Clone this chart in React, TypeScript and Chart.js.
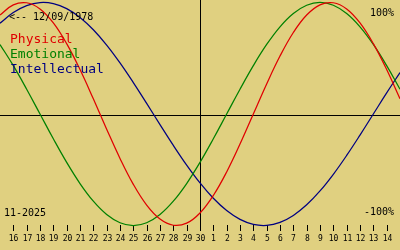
import { useEffect, useRef } from "react";
import { Chart, registerables } from "chart.js";
Chart.register(...registerables);

// Day labels (16 Nov .. 14 Dec), index 0..28
const dayLabels = [
  "16", "17", "18", "19", "20", "21", "22", "23", "24", "25", "26", "27", "28", "29", "30",
  "1", "2", "3", "4", "5", "6", "7", "8", "9", "10", "11", "12", "13", "14",
];
// Series values for day index -1 .. 29 (one extra day at each edge)
const physical = [
  0.8879, 0.9791, 0.9977, 0.9423, 0.817, 0.6311, 0.3984, 0.1362, -0.1362, -0.3984, -0.6311,
  -0.817, -0.9423, -0.9977, -0.9791, -0.8879, -0.7308, -0.5196, -0.2698, 0, 0.2698, 0.5196,
  0.7308, 0.8879, 0.9791, 0.9977, 0.9423, 0.817, 0.6311, 0.3984, 0.1362,
];
const emotional = [
  0.6235, 0.4339, 0.2225, 0, -0.2225, -0.4339, -0.6235, -0.7818, -0.901, -0.9749, -1,
  -0.9749, -0.901, -0.7818, -0.6235, -0.4339, -0.2225, 0, 0.2225, 0.4339, 0.6235, 0.7818,
  0.901, 0.9749, 1, 0.9749, 0.901, 0.7818, 0.6235, 0.4339, 0.2225,
];
const intellectual = [
  0.8146, 0.9096, 0.9718, 0.9989, 0.9898, 0.945, 0.866, 0.7557, 0.6182, 0.4582, 0.2817,
  0.0951, -0.0951, -0.2817, -0.4582, -0.6182, -0.7557, -0.866, -0.945, -0.9898, -0.9989,
  -0.9718, -0.9096, -0.8146, -0.6901, -0.5406, -0.3717, -0.1893, 0, 0.1893, 0.3717,
];
const seriesNames = ["Physical", "Emotional", "Intellectual"];
const seriesColors = ["#e00000", "#008000", "#000080"];
const birthText = "<-- 12/09/1978";
const monthText = "11-2025";
const topText = "100%";
const bottomText = "-100%";
const centerIndex = 14;

const BG = "#e0d080";

const toPoints = (arr: number[]) => arr.map((y, i) => ({ x: i - 1, y }));

const bioPlugin = {
  id: "bio",
  beforeDraw(chart: any) {
    const ctx = chart.ctx;
    ctx.save();
    ctx.fillStyle = BG;
    ctx.fillRect(0, 0, chart.width, chart.height);
    ctx.restore();
  },
  beforeDatasetsDraw(chart: any) {
    const ctx = chart.ctx;
    const xs = chart.scales.x;
    const ys = chart.scales.y;
    ctx.save();
    ctx.strokeStyle = "#000";
    ctx.lineWidth = 1;
    // horizontal zero line
    const y0 = Math.round(ys.getPixelForValue(0)) + 1.5;
    ctx.beginPath();
    ctx.moveTo(0, y0);
    ctx.lineTo(chart.width, y0);
    ctx.stroke();
    // vertical center line
    const xc = Math.round(xs.getPixelForValue(centerIndex)) + 0.5;
    ctx.beginPath();
    ctx.moveTo(xc, 0);
    ctx.lineTo(xc, 231);
    ctx.stroke();
    // ticks and labels
    ctx.fillStyle = "#000";
    ctx.font = "8px 'DejaVu Sans Mono'";
    ctx.textAlign = "center";
    ctx.textBaseline = "alphabetic";
    dayLabels.forEach((lab, i) => {
      const px = Math.round(xs.getPixelForValue(i)) + 0.5;
      ctx.beginPath();
      ctx.moveTo(px, 225);
      ctx.lineTo(px, 231);
      ctx.stroke();
      ctx.fillText(lab, px, 241);
    });
    ctx.restore();
  },
  afterDatasetsDraw(chart: any) {
    const ctx = chart.ctx;
    ctx.save();
    ctx.textBaseline = "alphabetic";
    ctx.fillStyle = "#000";
    ctx.font = "10px 'DejaVu Sans Mono'";
    ctx.textAlign = "left";
    ctx.fillText(birthText, 9, 20);
    ctx.fillText(monthText, 4, 216);
    ctx.textAlign = "right";
    ctx.fillText(topText, 394, 16);
    ctx.fillText(bottomText, 394, 215);
    ctx.textAlign = "left";
    ctx.font = "13px 'DejaVu Sans Mono'";
    seriesNames.forEach((n, i) => {
      ctx.fillStyle = seriesColors[i];
      ctx.fillText(n, 10, 43 + i * 15);
    });
    ctx.restore();
  },
};

export default function App() {
  const ref = useRef<HTMLCanvasElement>(null);
  useEffect(() => {
    if (!ref.current) return;
    const ds = [physical, emotional, intellectual].map((arr, i) => ({
      label: seriesNames[i],
      data: toPoints(arr),
      borderColor: seriesColors[i],
      borderWidth: 1.25,
      pointRadius: 0,
      tension: 0.4,
      fill: false,
    }));
    const chart = new Chart(ref.current, {
      type: "line",
      data: { datasets: ds },
      options: {
        animation: false,
        responsive: false,
        layout: { padding: 0 },
        plugins: { legend: { display: false }, tooltip: { enabled: false } },
        scales: {
          x: { type: "linear", min: -1, max: 29, display: false },
          y: { min: -1.2197, max: 1.0224, display: false },
        },
      },
      plugins: [bioPlugin],
    });
    return () => chart.destroy();
  }, []);
  return (
    <div style={{ position: "fixed", left: 0, top: 0, width: 400, height: 250 }}>
      <canvas ref={ref} width={400} height={250} />
    </div>
  );
}
